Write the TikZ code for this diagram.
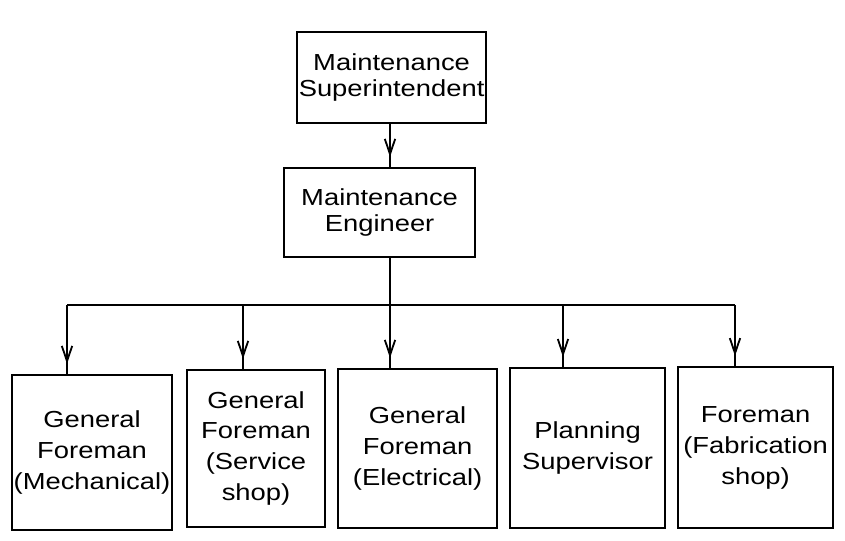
\documentclass[tikz,border=0pt]{standalone}
\usepackage{fontspec}
\setmainfont{Liberation Sans}[FakeStretch=1.18]
\usepackage{tikz}
\usetikzlibrary{arrows.meta, decorations.markings}
\tikzset{
  post/.style={draw, line width=1.4pt, rectangle, align=center, inner sep=1pt},
  wire/.style={line width=1.3pt},
  midtip/.style={wire, postaction={decorate},
    decoration={markings, mark=at position -0.25cm with {\arrow{Straight Barb[length=3.8mm, width=2.6mm, line width=1.3pt]}}}},
}

\begin{document}
\begin{tikzpicture}[
  top/.style={post, font=\fontsize{16.5}{19}\selectfont},
  low/.style={post, font=\fontsize{16.5}{22}\selectfont},
]
\useasboundingbox (0,0) rectangle (21.125,-13.5);

%% ---- upper chain ----
\node[top, minimum width=4.675cm, minimum height=2.275cm] (sup) at (9.79,-1.94)
  {Maintenance\\Superintendent};
\node[top, minimum width=4.775cm, minimum height=2.225cm] (eng) at (9.49,-5.31)
  {Maintenance\\Engineer};

%% ---- the five posts under the engineer ----
\node[low, minimum width=4.0cm,   minimum height=3.875cm] (mech) at (2.3,-11.31)
  {General\\Foreman\\(Mechanical)};
\node[low, minimum width=3.45cm,  minimum height=3.925cm] (serv) at (6.4,-11.21)
  {General\\Foreman\\(Service\\shop)};
\node[low, minimum width=3.975cm, minimum height=3.975cm] (elec) at (10.44,-11.21)
  {General\\Foreman\\(Electrical)};
\node[low, minimum width=3.875cm, minimum height=4.0cm]   (plan) at (14.69,-11.2)
  {Planning\\Supervisor};
\node[low, minimum width=3.875cm, minimum height=4.025cm] (fab)  at (18.89,-11.19)
  {Foreman\\(Fabrication\\shop)};

%% bus line and the points where each drop leaves it
\coordinate (bmech) at (1.675,-7.625);
\coordinate (bserv) at (6.075,-7.625);
\coordinate (belec) at (9.75,-7.625);
\coordinate (bplan) at (14.075,-7.625);
\coordinate (bfab)  at (18.375,-7.625);

\draw[midtip] (sup.south -| belec) -- (belec |- eng.north);
\draw[wire] (belec |- eng.south) -- (belec);
\draw[wire] (bmech) -- (bfab);

\draw[midtip] (bmech) -- (bmech |- mech.north);
\draw[midtip] (bserv) -- (bserv |- serv.north);
\draw[midtip] (belec) -- (belec |- elec.north);
\draw[midtip] (bplan) -- (bplan |- plan.north);
\draw[midtip] (bfab)  -- (bfab |- fab.north);
\end{tikzpicture}
\end{document}
